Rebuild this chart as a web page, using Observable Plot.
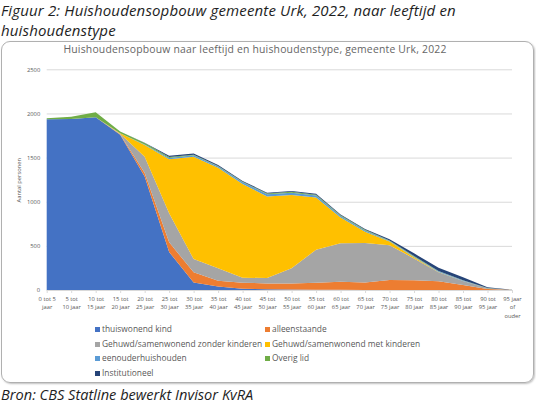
<!DOCTYPE html>
<html>
<head>
<meta charset="utf-8">
<script src="https://cdn.jsdelivr.net/npm/d3@7"></script>
<script src="https://cdn.jsdelivr.net/npm/@observablehq/plot@0.6"></script>
<style>
  html, body { margin: 0; padding: 0; background: #fff; }
  #page { position: relative; width: 536px; height: 405px; overflow: hidden; font-family: "Open Sans", Lato, sans-serif; }
  #figtitle { position: absolute; left: 1px; top: 0px; font-size: 15px; font-style: italic; line-height: 20px; color: #1e1e1e; letter-spacing: 0.15px; }
  #box { position: absolute; left: 1px; top: 41px; width: 531px; height: 340px; border: 1px solid #b0b0b0; border-radius: 9px; box-shadow: 1px 1px 2px rgba(0,0,0,0.25); }
  #charttitle { position: absolute; left: 0; width: 510px; top: 42px; text-align: center; font-size: 10.4px; color: #666; letter-spacing: 0.2px; }
  #chart { position: absolute; left: 0; top: 60px; }
  .leg { position: absolute; font-size: 8.4px; color: #595959; white-space: nowrap; line-height: 10px; letter-spacing: 0px; }
  .leg span.sw { display: inline-block; width: 5px; height: 5px; margin-right: 2px; vertical-align: 0px; }
  #source { position: absolute; left: 1px; top: 384px; font-size: 14.6px; font-style: italic; color: #1e1e1e; }
</style>
</head>
<body>
<div id="page">
  <div id="figtitle">Figuur 2: Huishoudensopbouw gemeente Urk, 2022, naar leeftijd en<br>huishoudenstype</div>
  <div id="box"></div>
  <div id="charttitle">Huishoudensopbouw naar leeftijd en huishoudenstype, gemeente Urk, 2022</div>
  <div id="chart"></div>
  <div id="legend"></div>
  <div id="source">Bron: CBS Statline bewerkt Invisor KvRA</div>
</div>
<script>
const ageLabels = ["0 tot 5\njaar", "5 tot\n10 jaar", "10 tot\n15 jaar", "15 tot\n20 jaar", "20 tot\n25 jaar",
  "25 tot\n30 jaar", "30 tot\n35 jaar", "35 tot\n40 jaar", "40 tot\n45 jaar", "45 tot\n50 jaar",
  "50 tot\n55 jaar", "55 tot\n60 jaar", "60 tot\n65 jaar", "65 tot\n70 jaar", "70 tot\n75 jaar",
  "75 tot\n80 jaar", "80 tot\n85 jaar", "85 tot\n90 jaar", "90 tot\n95 jaar", "95 jaar\nof\nouder"];

const seriesNames = ["thuiswonend kind", "alleenstaande", "Gehuwd/samenwonend zonder kinderen",
  "Gehuwd/samenwonend met kinderen", "eenouderhuishouden", "Overig lid", "Institutioneel"];
const seriesColors = ["#4472C4", "#ED7D31", "#A5A5A5", "#FFC000", "#5B9BD5", "#70AD47", "#264478"];

const thuiswonendKind = [1935, 1937, 1958, 1760, 1285, 430, 85, 40, 15, 8, 5, 3, 2, 1, 1, 0, 0, 0, 0, 0];
const alleenstaande   = [0, 0, 0, 5, 40, 110, 115, 66, 68, 67, 70, 80, 92, 84, 112, 110, 100, 57, 11, 1];
const zonderKinderen  = [0, 0, 0, 5, 185, 330, 150, 140, 57, 60, 171, 374, 435, 447, 393, 248, 100, 45, 8, 0];
const metKinderen     = [0, 0, 0, 5, 133, 610, 1160, 1139, 1060, 925, 830, 591, 291, 128, 42, 12, 3, 1, 0, 0];
const eenouder        = [0, 0, 0, 2, 5, 15, 15, 15, 20, 25, 26, 22, 18, 14, 8, 8, 8, 4, 1, 0];
const overigLid       = [10, 25, 55, 18, 17, 12, 8, 5, 5, 8, 10, 10, 9, 8, 6, 7, 5, 4, 2, 0];
const institutioneel  = [0, 0, 0, 0, 3, 13, 12, 10, 10, 10, 10, 10, 8, 8, 12, 30, 37, 33, 10, 1];

const yTicks = [0, 500, 1000, 1500, 2000, 2500];

const seriesValues = [thuiswonendKind, alleenstaande, zonderKinderen, metKinderen, eenouder, overigLid, institutioneel];
const table = [];
seriesNames.forEach((s, k) => {
  seriesValues[k].forEach((v, i) => table.push({series: s, i, value: v}));
});

const chart = Plot.plot({
  width: 536,
  height: 260,
  marginLeft: 46.7,
  marginRight: 24,
  marginTop: 9.3,
  marginBottom: 30,
  x: {type: "linear", domain: [0, ageLabels.length - 1]},
  y: {domain: [0, 2500]},
  color: {domain: seriesNames, range: seriesColors},
  style: {fontFamily: "'Open Sans', Lato, sans-serif", fontSize: "5.8px", color: "#595959", background: "transparent", overflow: "visible"},
  marks: [
    Plot.gridY(yTicks, {stroke: "#d9d9d9", strokeOpacity: 1}),
    Plot.areaY(table, {x: "i", y: "value", fill: "series", order: seriesNames, curve: "linear"}),
    Plot.ruleY([0], {stroke: "#d9d9d9"}),
    Plot.axisY({ticks: yTicks, tickFormat: d => String(d), tickSize: 0, tickPadding: 7, fontSize: 5.8, fill: "#595959",
      label: "Aantal personen", labelAnchor: "center", labelArrow: "none", labelOffset: 30}),
    Plot.axisX({ticks: d3.range(ageLabels.length), tickFormat: i => ageLabels[i], tickSize: 3, tickPadding: 2,
      stroke: "#d9d9d9", fill: "#595959", fontSize: 5.8, lineHeight: 1.4, label: null})
  ]
});
document.getElementById("chart").appendChild(chart);

// legend
const legPos = [[95, 324], [265, 324], [95, 338.5], [265, 338.5], [95, 353], [265, 353], [95, 367.5]];
const legend = document.getElementById("legend");
seriesNames.forEach((s, k) => {
  const d = document.createElement("div");
  d.className = "leg";
  d.style.left = legPos[k][0] + "px";
  d.style.top = legPos[k][1] + "px";
  d.innerHTML = `<span class="sw" style="background:${seriesColors[k]}"></span>${s}`;
  legend.appendChild(d);
});
</script>
</body>
</html>
